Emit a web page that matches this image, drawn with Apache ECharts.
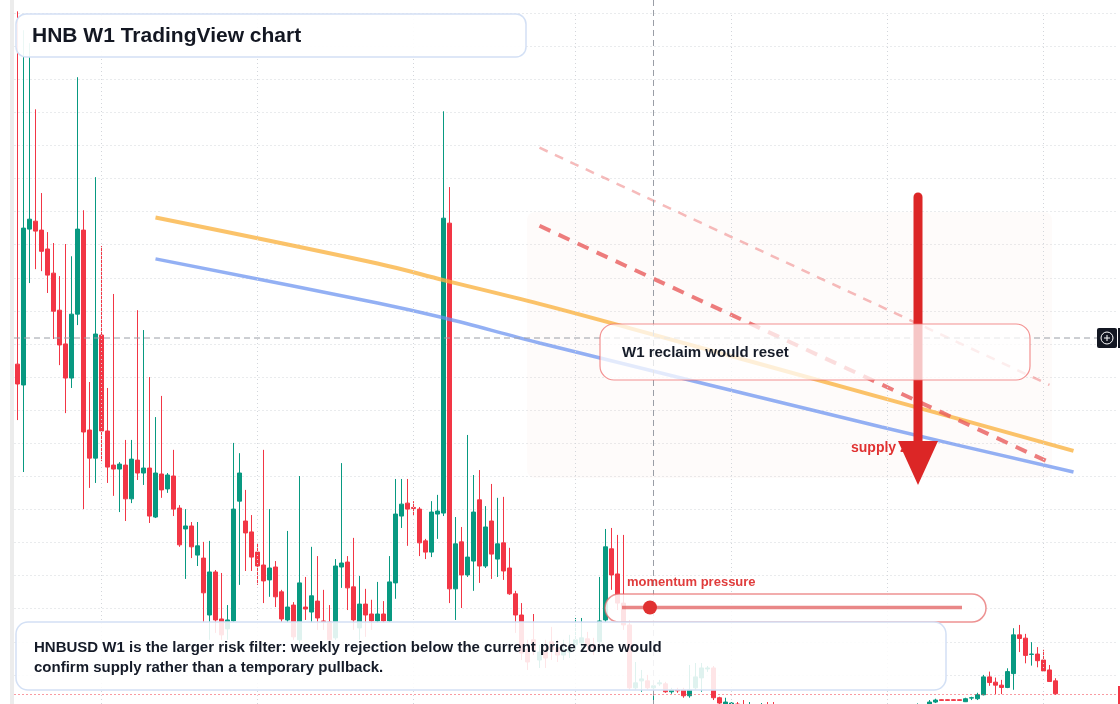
<!DOCTYPE html>
<html>
<head>
<meta charset="utf-8">
<title>HNB W1 TradingView chart</title>
<script src="https://cdn.jsdelivr.net/npm/echarts@6.0.0/dist/echarts.min.js"></script>
<style>
  html, body { margin: 0; padding: 0; background: #ffffff; }
  #chart { width: 1120px; height: 704px; }
</style>
</head>
<body>
<div id="chart"></div>
<script>
// weekly bars, one category per week (the last few stay empty on the right)
const weekCount = 184;
const weeks = [];
const firstWeek = Date.UTC(2021, 2, 1);
for (let i = 0; i < weekCount; i++) {
  weeks.push(new Date(firstWeek + i * 7 * 86400000).toISOString().slice(0, 10));
}

// OHLC (price units = one grid row)
const opens = [
  9.39, 8.76, 13.47, 13.71, 13.44, 12.87, 12.14, 11.02, 10.00, 8.97,
  10.90, 13.44, 7.40, 6.55, 10.27, 7.37, 6.34, 6.22, 6.34, 5.32,
  6.49, 6.10, 6.25, 4.77, 6.07, 5.62, 6.01, 5.04, 4.41, 4.50,
  3.62, 3.53, 1.81, 3.11, 1.69, 1.39, 1.63, 5.25, 4.65, 4.32,
  3.71, 3.32, 2.87, 3.26, 2.51, 1.66, 2.11, 1.06, 2.05, 1.90,
  2.23, 1.63, 1.60, 1.12, 3.26, 3.41, 2.66, 1.42, 2.14, 1.84,
  1.63, 1.84, 1.63, 2.78, 4.80, 5.19, 5.06, 5.01, 4.05, 3.71,
  4.86, 4.89, 13.65, 2.60, 4.02, 3.02, 3.44, 5.29, 3.29, 4.65,
  3.50, 3.99, 3.23, 2.45, 1.81, 0.76, 1.06, 0.45, 0.69, 1.00,
  0.82, 0.60, 0.69, 0.91, 0.97, 1.09, 0.91, 1.00, 1.66, 3.81,
  3.05, 2.17, 1.51, -0.39, -0.18, -0.18, -0.39, -0.27, -0.27, -0.51,
  -0.45, -0.45, -0.63, -0.39, -0.09, 0.18, 0.21, -0.69, -0.91, -0.94,
  -0.88, -0.91, -0.97, -0.94, -1.00, -0.94, -1.00, -1.20, -1.10, -1.25,
  -1.32, -1.22, -1.30, -1.38, -1.30, -1.36, -1.28, -1.20, -1.27, -1.18,
  -1.24, -1.15, -1.10, -1.16, -1.08, -1.14, -1.05, -1.10, -1.02, -0.98,
  -1.02, -0.96, -0.88, -0.82, -0.75, -0.75, -0.75, -0.75, -0.81, -0.70,
  -0.72, -0.60, -0.06, -0.22, -0.31, -0.38, 0.04, 1.21, 1.11, 0.62,
  0.63, 0.45, 0.15, -0.18
];
const closes = [
  8.79, 13.50, 13.77, 13.41, 12.80, 12.08, 10.99, 9.97, 8.97, 10.90,
  13.47, 7.34, 6.55, 10.30, 7.37, 6.28, 6.22, 6.37, 5.32, 6.52,
  6.10, 6.25, 4.80, 6.10, 5.59, 6.04, 5.01, 3.93, 4.50, 3.87,
  3.90, 2.48, 3.11, 1.66, 1.21, 1.66, 5.01, 6.10, 4.29, 3.56,
  3.29, 2.84, 3.23, 2.36, 1.69, 2.05, 1.15, 2.78, 1.99, 2.39,
  1.72, 1.60, 1.06, 3.29, 3.38, 2.63, 1.66, 2.14, 1.81, 1.63,
  1.84, 1.63, 2.81, 4.86, 5.16, 5.01, 5.03, 3.99, 3.71, 4.92,
  4.95, 13.80, 2.60, 3.96, 3.02, 3.56, 4.92, 3.29, 4.47, 3.65,
  3.96, 3.14, 2.45, 1.81, 0.66, 0.39, 0.76, 0.69, 0.51, 0.76,
  0.60, 0.76, 0.82, 1.06, 1.12, 0.91, 0.82, 1.63, 3.87, 3.02,
  2.17, 1.51, -0.39, -0.24, -0.12, -0.39, -0.33, -0.24, -0.51, -0.45,
  -0.48, -0.63, -0.45, -0.06, 0.21, 0.21, -0.69, -0.85, -0.82, -0.85,
  -0.94, -0.97, -0.91, -1.00, -0.94, -1.00, -1.09, -1.10, -1.25, -1.32,
  -1.22, -1.30, -1.38, -1.30, -1.36, -1.28, -1.20, -1.27, -1.18, -1.24,
  -1.15, -1.10, -1.16, -1.08, -1.14, -1.05, -1.10, -1.02, -0.98, -1.02,
  -0.96, -0.92, -0.82, -0.76, -0.77, -0.77, -0.77, -0.77, -0.72, -0.69,
  -0.60, -0.06, -0.23, -0.31, -0.38, 0.10, 1.21, 1.10, 0.59, 0.63,
  0.43, 0.12, -0.20, -0.57
];
const lows = [
  7.70, 6.13, 11.84, 12.26, 12.20, 11.54, 10.15, 9.36, 7.91, 8.67,
  10.57, 5.01, 5.65, 5.80, 6.46, 5.80, 5.41, 4.92, 4.65, 5.19,
  5.89, 5.74, 4.59, 4.74, 5.35, 5.50, 4.80, 3.87, 2.90, 3.53,
  3.29, 1.60, 1.06, 1.27, 1.06, 1.06, 1.60, 2.72, 3.14, 3.14,
  2.72, 2.17, 2.36, 2.05, 1.60, 1.57, 1.06, 0.91, 1.66, 1.57,
  1.36, 1.36, 0.91, 1.06, 2.63, 1.96, 1.36, 1.06, 1.15, 1.36,
  1.57, 1.57, 1.60, 2.30, 4.44, 3.90, 4.80, 3.59, 3.50, 3.56,
  4.11, 4.80, 2.17, 1.66, 2.02, 2.96, 2.54, 2.78, 3.23, 2.90,
  2.96, 2.87, 2.42, 1.27, 0.45, 0.15, 0.60, 0.21, 0.21, 0.45,
  0.39, 0.45, 0.51, 0.76, 0.82, 0.69, 0.60, 0.91, 1.60, 2.57,
  1.96, 1.36, -0.45, -0.45, -0.51, -0.45, -0.76, -0.33, -0.54, -0.57,
  -0.54, -0.69, -0.69, -0.45, -0.51, 0.09, -0.76, -0.91, -0.94, -1.00,
  -1.03, -1.06, -1.03, -1.09, -1.06, -1.12, -1.18, -1.30, -1.35, -1.40,
  -1.38, -1.36, -1.45, -1.42, -1.44, -1.40, -1.33, -1.34, -1.30, -1.30,
  -1.28, -1.20, -1.22, -1.20, -1.18, -1.18, -1.15, -1.14, -1.08, -1.06,
  -1.05, -1.00, -0.94, -0.85, -0.78, -0.78, -0.78, -0.78, -0.82, -0.76,
  -0.76, -0.62, -0.33, -0.58, -0.58, -0.40, -0.45, 0.69, 0.35, 0.28,
  0.23, 0.09, -0.20, -0.60
];
const highs = [
  20.05, 19.48, 19.09, 17.09, 14.56, 13.38, 13.05, 12.05, 13.02, 12.65,
  18.06, 14.04, 8.85, 15.04, 12.96, 8.67, 11.51, 6.43, 7.10, 7.10,
  11.02, 10.42, 9.00, 7.79, 8.43, 6.10, 6.80, 5.13, 5.01, 4.62,
  4.62, 4.02, 4.05, 3.17, 3.08, 2.11, 7.01, 6.70, 5.59, 4.83,
  3.99, 6.80, 5.01, 3.44, 2.57, 4.35, 2.20, 6.01, 2.96, 3.87,
  3.59, 2.57, 2.11, 3.50, 6.40, 3.59, 4.14, 2.99, 2.60, 2.27,
  2.81, 2.23, 3.59, 5.92, 5.92, 5.92, 5.25, 5.07, 4.11, 5.25,
  5.44, 17.03, 14.74, 4.77, 4.47, 7.25, 6.04, 6.19, 5.10, 5.77,
  5.35, 5.38, 3.84, 2.54, 2.17, 1.06, 1.84, 0.91, 1.06, 1.45,
  1.06, 1.06, 1.21, 1.72, 1.72, 1.30, 1.12, 2.96, 4.41, 4.44,
  4.23, 4.23, 1.66, 0.39, 0.15, 0.00, -0.21, -0.15, -0.21, -0.39,
  -0.39, -0.39, 0.30, 0.36, 0.36, 0.27, 0.27, -0.66, -0.69, -0.82,
  -0.82, -0.76, -0.82, -0.88, -0.85, -0.82, -0.82, -1.00, -1.02, -1.15,
  -1.12, -1.15, -1.25, -1.22, -1.26, -1.20, -1.14, -1.15, -1.10, -1.12,
  -1.08, -1.02, -1.04, -1.00, -1.02, -0.98, -0.99, -0.96, -0.92, -0.90,
  -0.86, -0.88, -0.76, -0.72, -0.74, -0.74, -0.74, -0.74, -0.69, -0.66,
  -0.54, 0.00, 0.10, -0.08, -0.15, 0.20, 1.41, 1.51, 1.24, 0.99,
  0.84, 0.76, 0.30, -0.10
];

// moving averages, read at a handful of weeks: [week index, price]
const orangeMA = [[23, 13.82], [60, 12.43], [71, 11.93], [87, 11.21], [102, 10.48], [144, 8.38], [176, 6.77]];
const blueMA = [[23, 12.57], [60, 11.24], [71, 10.79], [87, 10.03], [144, 7.49], [176, 6.13]];

// supply channel (dashed)
const supplyUpper = [[87, 15.93], [172, 8.76]];
const supplyLower = [[87, 13.57], [172, 6.42]];

const gridWeeks = [14, 40, 66, 93, 119, 145, 171];
const lastPrice = -0.57;

const candles = opens.map((o, i) => [o, closes[i], lows[i], highs[i]]);

const UP = '#089981';
const DOWN = '#f23645';
const FONT = '"Liberation Sans", Arial, sans-serif';
const gridDots = { color: '#d3d6db', type: [1, 3], width: 1 };

const chart = echarts.init(document.getElementById('chart'), null, { renderer: 'canvas' });

const option = {
  animation: false,
  backgroundColor: '#ffffff',
  grid: { left: 14.5, top: 13, width: 1104, height: 695, outerBoundsMode: 'none' },
  xAxis: {
    type: 'category',
    data: weeks,
    boundaryGap: true,
    axisLine: { show: false },
    axisTick: { show: false },
    axisLabel: { show: false },
    splitLine: { show: false }
  },
  yAxis: {
    type: 'value',
    min: -1,
    max: 20,
    interval: 1,
    axisLine: { show: false },
    axisTick: { show: false },
    axisLabel: { show: false },
    splitLine: { show: true, lineStyle: gridDots }
  },
  series: [
    {
      type: 'candlestick',
      data: candles,
      barWidth: 5,
      clip: false,
      itemStyle: {
        color: UP, color0: DOWN,
        borderColor: UP, borderColor0: DOWN,
        borderWidth: 1
      },
      markLine: {
        silent: true,
        symbol: 'none',
        label: { show: false },
        animation: false,
        data: gridWeeks.map(i => ({ xAxis: weeks[i], lineStyle: gridDots }))
          .concat([{ yAxis: lastPrice, lineStyle: { color: DOWN, type: [1, 3], width: 1 } }])
      }
    },
    {
      type: 'line',
      data: orangeMA,
      smooth: 0.35,
      showSymbol: false,
      silent: true,
      z: 4,
      lineStyle: { color: 'rgba(250,178,64,0.78)', width: 4 }
    },
    {
      type: 'line',
      data: blueMA,
      smooth: 0.35,
      showSymbol: false,
      silent: true,
      z: 4,
      lineStyle: { color: 'rgba(105,145,240,0.72)', width: 3.5 }
    },
    {
      type: 'line',
      data: supplyUpper,
      showSymbol: false,
      silent: true,
      z: 4,
      lineStyle: { color: 'rgba(238,120,120,0.5)', width: 2.5, type: [9, 8] }
    },
    {
      type: 'line',
      data: supplyLower,
      showSymbol: false,
      silent: true,
      z: 4,
      lineStyle: { color: 'rgba(232,92,92,0.8)', width: 4, type: [12, 9] }
    }
  ],
  graphic: [
    // left edge strip
    { type: 'rect', z: 10, shape: { x: 10, y: 0, width: 4, height: 704 }, style: { fill: '#ececec' } },
    // supply zone shading
    { type: 'rect', z: 1, shape: { x: 527, y: 212, width: 525, height: 266, r: 8 }, style: { fill: 'rgba(240,212,196,0.09)' } },
    // crosshair
    { type: 'line', z: 6, shape: { x1: 14, y1: 338, x2: 1097, y2: 338 }, style: { stroke: '#9a9ea6', lineWidth: 1, lineDash: [6, 4] } },
    { type: 'line', z: 6, shape: { x1: 653.5, y1: 0, x2: 653.5, y2: 704 }, style: { stroke: '#9a9ea6', lineWidth: 1, lineDash: [6, 4] } },
    { type: 'rect', z: 40, shape: { x: 1097, y: 328, width: 20, height: 20, r: 2 }, style: { fill: '#131722' } },
    { type: 'rect', z: 40, shape: { x: 1118, y: 328, width: 2, height: 20 }, style: { fill: '#131722' } },
    { type: 'circle', z: 41, shape: { cx: 1107, cy: 338, r: 6 }, style: { fill: 'none', stroke: '#ffffff', lineWidth: 1 } },
    { type: 'line', z: 41, shape: { x1: 1104, y1: 338, x2: 1110, y2: 338 }, style: { stroke: '#ffffff', lineWidth: 1 } },
    { type: 'line', z: 41, shape: { x1: 1107, y1: 335, x2: 1107, y2: 341 }, style: { stroke: '#ffffff', lineWidth: 1 } },
    { type: 'rect', z: 40, shape: { x: 1118, y: 686, width: 2, height: 18 }, style: { fill: DOWN } },
    // supply zone label + down arrow
    { type: 'text', z: 20, x: 851, y: 448, style: { text: 'supply zone', fill: '#e03131', font: 'bold 14px ' + FONT, verticalAlign: 'middle' } },
    { type: 'line', z: 22, shape: { x1: 918, y1: 197, x2: 918, y2: 446 }, style: { stroke: '#dc2626', lineWidth: 9, lineCap: 'round' } },
    { type: 'polygon', z: 22, shape: { points: [[898, 441], [938, 441], [918, 485]] }, style: { fill: '#dc2626' } },
    // W1 reclaim callout
    { type: 'rect', z: 30, shape: { x: 600, y: 324, width: 430, height: 56, r: 14 }, style: { fill: 'rgba(255,255,255,0.74)', stroke: 'rgba(239,110,110,0.75)', lineWidth: 1.2 } },
    { type: 'text', z: 31, x: 622, y: 353, style: { text: 'W1 reclaim would reset', fill: '#151b28', font: 'bold 15px ' + FONT, verticalAlign: 'middle' } },
    // momentum pressure gauge
    { type: 'text', z: 31, x: 627, y: 582.5, style: { text: 'momentum pressure', fill: '#e03c3c', font: 'bold 13px ' + FONT, verticalAlign: 'middle' } },
    { type: 'rect', z: 30, shape: { x: 605, y: 594, width: 381, height: 28, r: 14 }, style: { fill: 'rgba(255,255,255,0.86)', stroke: 'rgba(230,100,100,0.7)', lineWidth: 1.5 } },
    { type: 'line', z: 31, shape: { x1: 622, y1: 607.5, x2: 962, y2: 607.5 }, style: { stroke: 'rgba(225,95,95,0.75)', lineWidth: 3.5 } },
    { type: 'circle', z: 32, shape: { cx: 650, cy: 607.5, r: 7 }, style: { fill: '#e03131' } },
    // bottom note
    { type: 'rect', z: 30, shape: { x: 16, y: 622, width: 930, height: 68, r: 12 }, style: { fill: 'rgba(255,255,255,0.87)', stroke: '#d3e0f5', lineWidth: 1.5 } },
    { type: 'text', z: 31, x: 34, y: 648, style: { text: 'HNBUSD W1 is the larger risk filter: weekly rejection below the current price zone would', fill: '#151b28', font: 'bold 15px ' + FONT, verticalAlign: 'middle' } },
    { type: 'text', z: 31, x: 34, y: 668, style: { text: 'confirm supply rather than a temporary pullback.', fill: '#151b28', font: 'bold 15px ' + FONT, verticalAlign: 'middle' } },
    // title
    { type: 'rect', z: 30, shape: { x: 16, y: 14, width: 510, height: 43, r: 10 }, style: { fill: 'rgba(255,255,255,0.92)', stroke: '#d3e0f5', lineWidth: 1.5 } },
    { type: 'text', z: 31, x: 32, y: 36, style: { text: 'HNB W1 TradingView chart', fill: '#131722', font: 'bold 21px ' + FONT, verticalAlign: 'middle' } }
  ]
};

chart.setOption(option);
</script>
</body>
</html>
